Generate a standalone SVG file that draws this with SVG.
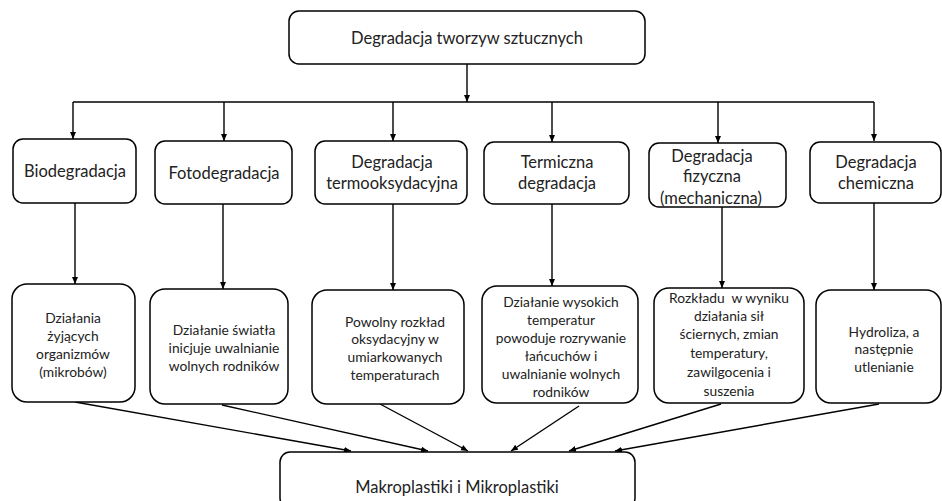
<svg xmlns="http://www.w3.org/2000/svg" width="942" height="501" viewBox="0 0 942 501">
<style>
.box{fill:#fff;stroke:#000;stroke-width:1.5}
.t{font-family:Lato,"Liberation Sans",sans-serif;font-size:16.5px;fill:#222;text-anchor:middle}
.s{font-family:Lato,"Liberation Sans",sans-serif;font-size:13.8px;fill:#222;text-anchor:middle}
.c{fill:none;stroke:#000;stroke-width:1.4;marker-end:url(#ah)}
.l{fill:none;stroke:#000;stroke-width:1.4}
</style>
<defs>
<marker id="ah" markerUnits="userSpaceOnUse" markerWidth="8" markerHeight="7" refX="7" refY="3" orient="auto">
<path d="M0,0 L7,3 L0,6 z" fill="#000"/>
</marker>
</defs>
<rect width="942" height="501" fill="#fff"/>
<g id="connectors">
<path class="c" d="M467,64 V102"/>
<path class="l" d="M73,102 H874"/>
<path class="c" d="M73,102 V139"/>
<path class="c" d="M224,102 V141"/>
<path class="c" d="M393,102 V141"/>
<path class="c" d="M552,102 V142"/>
<path class="c" d="M718,102 V143"/>
<path class="c" d="M874,102 V141"/>
<path class="c" d="M75,203 V284"/>
<path class="c" d="M223,204 V289"/>
<path class="c" d="M393,204 V290"/>
<path class="c" d="M552,204 V286"/>
<path class="c" d="M722,207 V288"/>
<path class="c" d="M874,203 V290"/>
<path class="c" d="M75,402 L351,451"/>
<path class="c" d="M222,405 L428,451"/>
<path class="c" d="M380,404 L468,451"/>
<path class="c" d="M579,406 L511,451"/>
<path class="c" d="M721,404 L569,451"/>
<path class="c" d="M879,404 L615,451"/>
</g>
<g id="top">
<rect class="box" x="289" y="11" width="356" height="53" rx="10"/>
<text class="t" x="467" y="44">Degradacja tworzyw sztucznych</text>
</g>
<g id="biodegradacja">
<rect class="box" x="13" y="139" width="123" height="64" rx="10"/>
<text class="t" x="75" y="177">Biodegradacja</text>
</g>
<g id="fotodegradacja">
<rect class="box" x="155" y="141" width="137" height="63" rx="10"/>
<text class="t" x="224" y="179">Fotodegradacja</text>
</g>
<g id="termooksydacyjna">
<rect class="box" x="315" y="141" width="152" height="63" rx="10"/>
<text class="t" x="392" y="168">Degradacja</text>
<text class="t" x="392" y="189">termooksydacyjna</text>
</g>
<g id="termiczna">
<rect class="box" x="484" y="142" width="145" height="62" rx="10"/>
<text class="t" x="557" y="168">Termiczna</text>
<text class="t" x="557" y="189">degradacja</text>
</g>
<g id="fizyczna">
<rect class="box" x="649" y="143" width="137" height="64" rx="10"/>
<text class="t" x="712" y="162">Degradacja</text>
<text class="t" x="712" y="182">fizyczna</text>
<text class="t" x="711" y="204">(mechaniczna)</text>
</g>
<g id="chemiczna">
<rect class="box" x="810" y="142" width="131" height="61" rx="10"/>
<text class="t" x="876" y="168">Degradacja</text>
<text class="t" x="876" y="189">chemiczna</text>
</g>
<g id="opis-bio">
<rect class="box" x="12" y="284" width="123" height="118" rx="15"/>
<text class="s" x="73" y="323">Działania</text>
<text class="s" x="73" y="341">żyjących</text>
<text class="s" x="73" y="359">organizmów</text>
<text class="s" x="73" y="377">(mikrobów)</text>
</g>
<g id="opis-foto">
<rect class="box" x="150" y="289" width="138" height="115" rx="15"/>
<text class="s" x="224" y="335">Działanie światła</text>
<text class="s" x="224" y="353">inicjuje uwalnianie</text>
<text class="s" x="224" y="371">wolnych rodników</text>
</g>
<g id="opis-termookso">
<rect class="box" x="312" y="290" width="152" height="114" rx="15"/>
<text class="s" x="395" y="327">Powolny rozkład</text>
<text class="s" x="395" y="344">oksydacyjny w</text>
<text class="s" x="395" y="362">umiarkowanych</text>
<text class="s" x="395" y="380">temperaturach</text>
</g>
<g id="opis-termiczna">
<rect class="box" x="482" y="286" width="156" height="117" rx="15"/>
<text class="s" x="561" y="307">Działanie wysokich</text>
<text class="s" x="561" y="325">temperatur</text>
<text class="s" x="561" y="343">powoduje rozrywanie</text>
<text class="s" x="561" y="361">łańcuchów i</text>
<text class="s" x="561" y="379">uwalnianie wolnych</text>
<text class="s" x="561" y="397">rodników</text>
</g>
<g id="opis-fizyczna">
<rect class="box" x="654" y="288" width="150" height="115" rx="15"/>
<text class="s" x="729" y="303" xml:space="preserve">Rozkładu  w wyniku</text>
<text class="s" x="729" y="321">działania sił</text>
<text class="s" x="729" y="339">ściernych, zmian</text>
<text class="s" x="729" y="358">temperatury,</text>
<text class="s" x="729" y="377">zawilgocenia i</text>
<text class="s" x="729" y="396">suszenia</text>
</g>
<g id="opis-chemiczna">
<rect class="box" x="816" y="290" width="125" height="113" rx="15"/>
<text class="s" x="884" y="337">Hydroliza, a</text>
<text class="s" x="884" y="354">następnie</text>
<text class="s" x="884" y="372">utlenianie</text>
</g>
<g id="wynik">
<rect class="box" x="280" y="452" width="355" height="56" rx="10"/>
<text class="t" x="457" y="493">Makroplastiki i Mikroplastiki</text>
</g>
</svg>
